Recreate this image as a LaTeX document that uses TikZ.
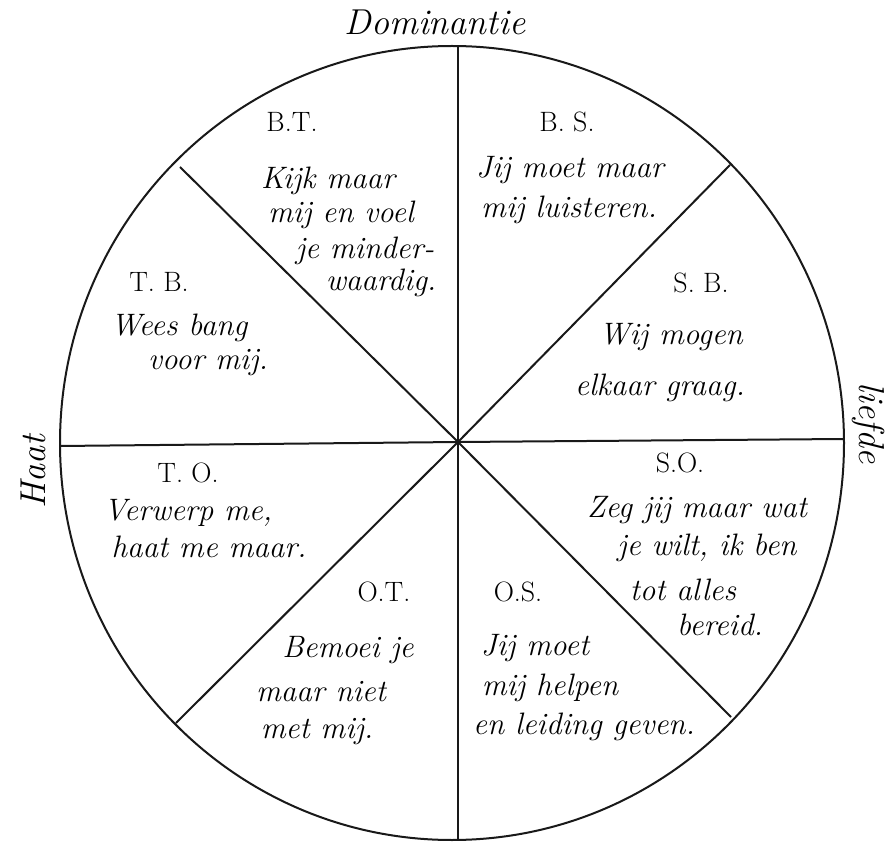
\documentclass[tikz,border=0pt]{standalone}
\begin{document}
\begin{tikzpicture}[x=1pt,y=-1pt,
  pen/.style={line width=2pt,black!90},
  hand/.style={font=\fontsize{31}{36}\selectfont\itshape, inner sep=0pt, text=black},
  lab/.style={font=\fontsize{28}{32}\selectfont, inner sep=0pt, text=black},
  axis/.style={font=\fontsize{36}{40}\selectfont\itshape, inner sep=0pt, text=black}]
\useasboundingbox (0,0) rectangle (892,842);
\fill[white] (0,0) rectangle (892,842);
% circle and spokes
\draw[pen] (452,443) ellipse [x radius=392pt, y radius=397pt];
\coordinate (c) at (458,442);
\coordinate (n) at (458,46);
\coordinate (s) at (458,840);
\coordinate (w) at (60,446);
\coordinate (e) at (844,439);
\coordinate (nw) at (180,167);
\coordinate (ne) at (730,165);
\coordinate (sw) at (176,723);
\coordinate (se) at (731,717);
\foreach \p in {n,s,w,e,nw,ne,sw,se} \draw[pen] (c) -- (\p);
% axis labels
\node[axis] (dom) at (435,22) {Dominantie};
\node[axis, rotate=90] (haat) at (33,472) {Haat};
\node[axis, rotate=-90] (lief) at (868,423) {liefde};
% B.T.
\node[lab] (bt) at (292,122) {B.T.};
\node[hand] (bt1) at (328,181) {Kijk maar};
\node[hand] (bt2) at (341,215) {mij en voel};
\node[hand] (bt3) at (365,251) {je minder-};
\node[hand] (bt4) at (381,283) {waardig.};
% B.S.
\node[lab] (bs) at (567,122) {B. S.};
\node[hand] (bs1) at (570,170) {Jij moet maar};
\node[hand] (bs2) at (569,210) {mij luisteren.};
% T.B.
\node[lab] (tb) at (159,282) {T. B.};
\node[hand] (tb1) at (179,328) {Wees bang};
\node[hand] (tb2) at (208,363) {voor mij.};
% S.B.
\node[lab] (sb) at (701,283) {S. B.};
\node[hand] (sb1) at (671,337) {Wij mogen};
\node[hand] (sb2) at (660,388) {elkaar graag.};
% T.O.
\node[lab] (to) at (188,473) {T. O.};
\node[hand] (to1) at (188,513) {Verwerp me,};
\node[hand] (to2) at (209,547) {haat me maar.};
% S.O.
\node[lab] (so) at (680,463) {S.O.};
\node[hand] (so1) at (697,510) {Zeg jij maar wat};
\node[hand] (so2) at (707,548) {je wilt, ik ben};
\node[hand] (so3) at (683,590) {tot alles};
\node[hand] (so4) at (720,625) {bereid.};
% O.T.
\node[lab] (ot) at (384,592) {O.T.};
\node[hand] (ot1) at (348,650) {Bemoei je};
\node[hand] (ot2) at (321,692) {maar niet};
\node[hand] (ot3) at (317,732) {met mij.};
% O.S.
\node[lab] (os) at (518,592) {O.S.};
\node[hand] (os1) at (535,648) {Jij moet};
\node[hand] (os2) at (550,688) {mij helpen};
\node[hand] (os3) at (584,727) {en leiding geven.};
\end{tikzpicture}
\end{document}
